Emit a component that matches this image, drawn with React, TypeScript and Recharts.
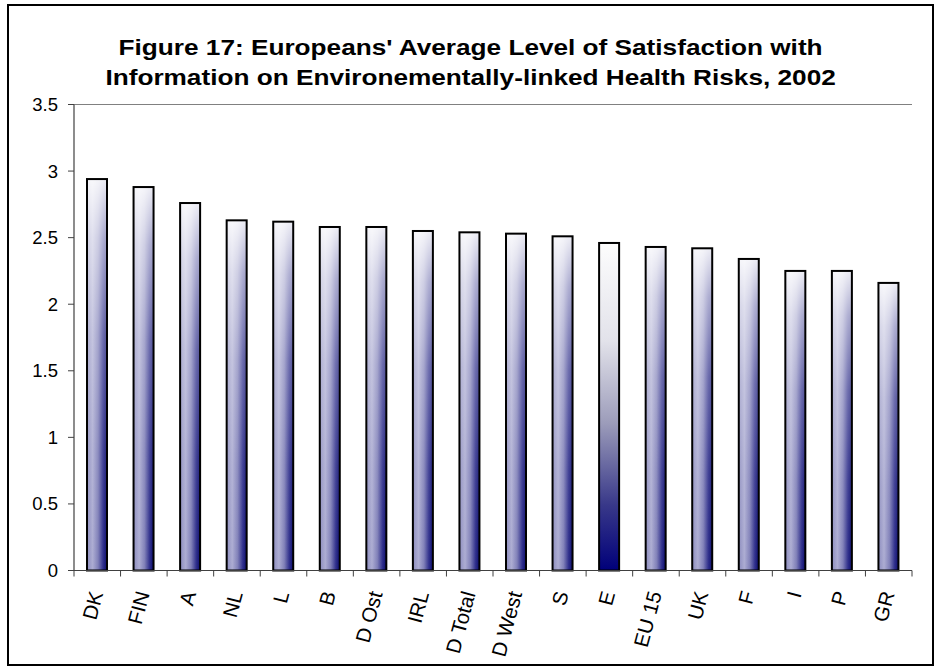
import React from 'react';
import { BarChart, Bar, XAxis, YAxis, CartesianGrid } from 'recharts';

const categories = ['DK', 'FIN', 'A', 'NL', 'L', 'B', 'D Ost', 'IRL', 'D Total', 'D West', 'S', 'E', 'EU 15', 'UK', 'F', 'I', 'P', 'GR'];
const satisfaction = [2.94, 2.88, 2.76, 2.63, 2.62, 2.58, 2.58, 2.55, 2.54, 2.53, 2.51, 2.46, 2.43, 2.42, 2.34, 2.25, 2.25, 2.16];
const highlighted = ['E'];
const yTicks = [0, 0.5, 1, 1.5, 2, 2.5, 3, 3.5];
const titleLines = [
  "Figure 17: Europeans' Average Level of Satisfaction with",
  'Information on Environementally-linked Health Risks, 2002',
];

const data = categories.map((name, i) => ({ name, value: satisfaction[i], hl: highlighted.includes(name) }));

const FONT = "'Liberation Sans', Arial, Helvetica, sans-serif";
const CHART_W = 923;
const CHART_H = 658;
const MARGIN = { top: 98.5, right: 20, left: 10, bottom: 33.5 };
const Y_AXIS_W = 55;
const PLOT_W = CHART_W - MARGIN.left - MARGIN.right - Y_AXIS_W;
const BAND = PLOT_W / categories.length;

const BarShape = (props: any) => {
  const { x, y, width, height, payload } = props;
  if (height <= 0) return null;
  if (payload && payload.hl) {
    return (
      <g>
        <rect x={x} y={y} width={width} height={height} fill="url(#eGrad)" />
        <rect x={x} y={y} width={width} height={height} fill="none" stroke="#000" strokeWidth={2} />
      </g>
    );
  }
  return (
    <g>
      <rect x={x} y={y} width={width} height={height} fill="url(#hGrad)" />
      <rect x={x} y={y} width={width} height={height} fill="url(#wOverlay)" />
      <rect x={x} y={y} width={width} height={height} fill="none" stroke="#000" strokeWidth={2} />
    </g>
  );
};

const XTick = (props: any) => {
  const { x, y, payload, index } = props;
  const last = index === categories.length - 1;
  return (
    <g>
      <line x1={x - BAND / 2} y1={y} x2={x - BAND / 2} y2={y + 6} stroke="#404040" strokeWidth={1} />
      {last && <line x1={x + BAND / 2} y1={y} x2={x + BAND / 2} y2={y + 6} stroke="#404040" strokeWidth={1} />}
      <text
        x={0}
        y={0}
        transform={`translate(${x + 6},${y + 23}) rotate(-75)`}
        textAnchor="end"
        fontFamily={FONT}
        fontSize={20.5}
        fill="#000"
      >
        {payload.value}
      </text>
    </g>
  );
};

export default function App() {
  return (
    <div
      style={{
        position: 'absolute',
        left: 7,
        top: 4,
        width: 927,
        height: 662,
        border: '2px solid #000',
        boxSizing: 'border-box',
        background: '#fff',
      }}
    >
      <div
        style={{
          position: 'absolute',
          left: 0,
          top: 26.5,
          width: CHART_W,
          textAlign: 'center',
          fontFamily: FONT,
          fontWeight: 'bold',
          fontSize: 22,
          lineHeight: '30px',
          color: '#000',
          transform: 'scaleX(1.19)',
          transformOrigin: '461px 0',
        }}
      >
        {titleLines.map((t) => (
          <div key={t}>{t}</div>
        ))}
      </div>
      <div style={{ position: 'absolute', left: 0, top: 0 }}>
        <BarChart width={CHART_W} height={CHART_H} data={data} margin={MARGIN} barCategoryGap={0}>
          <defs>
            <linearGradient id="hGrad" x1="0" y1="0" x2="1" y2="0">
              <stop offset="0" stopColor="#8c8cbe" />
              <stop offset="0.28" stopColor="#acacd2" />
              <stop offset="0.55" stopColor="#8080b8" />
              <stop offset="0.8" stopColor="#30308c" />
              <stop offset="1" stopColor="#0a0a6c" />
            </linearGradient>
            <linearGradient id="wOverlay" x1="0" y1="0" x2="0" y2="1">
              <stop offset="0" stopColor="#ffffff" stopOpacity={0.92} />
              <stop offset="0.15" stopColor="#ffffff" stopOpacity={0.62} />
              <stop offset="0.4" stopColor="#ffffff" stopOpacity={0.3} />
              <stop offset="0.7" stopColor="#ffffff" stopOpacity={0.1} />
              <stop offset="1" stopColor="#ffffff" stopOpacity={0} />
            </linearGradient>
            <linearGradient id="eGrad" x1="0" y1="0" x2="0" y2="1">
              <stop offset="0" stopColor="#fdfdfd" />
              <stop offset="0.3" stopColor="#e2e2ea" />
              <stop offset="0.55" stopColor="#9c9cba" />
              <stop offset="0.8" stopColor="#383889" />
              <stop offset="1" stopColor="#00007a" />
            </linearGradient>
          </defs>
          <CartesianGrid vertical={false} stroke="#808080" strokeWidth={1.2} />
          <XAxis
            dataKey="name"
            interval={0}
            height={60}
            tickLine={false}
            tickSize={0}
            tickMargin={0}
            axisLine={{ stroke: '#404040', strokeWidth: 1.2 }}
            tick={<XTick />}
          />
          <YAxis
            yAxisId="left"
            width={Y_AXIS_W}
            domain={[0, 3.5]}
            ticks={yTicks}
            interval={0}
            tickSize={6}
            tickMargin={10}
            axisLine={{ stroke: '#404040', strokeWidth: 1.2 }}
            tickLine={{ stroke: '#404040' }}
            tick={{ fontFamily: FONT, fontSize: 18.5, fill: '#000' }}
            tickFormatter={(v: number) => String(v)}
          />
          <YAxis
            yAxisId="right"
            orientation="right"
            width={0}
            domain={[0, 3.5]}
            ticks={yTicks}
            tick={false}
            tickLine={false}
            axisLine={{ stroke: '#808080', strokeWidth: 1.2 }}
          />
          <Bar
            yAxisId="left"
            dataKey="value"
            barSize={20}
            isAnimationActive={false}
            shape={<BarShape />}
          />
        </BarChart>
      </div>
    </div>
  );
}
